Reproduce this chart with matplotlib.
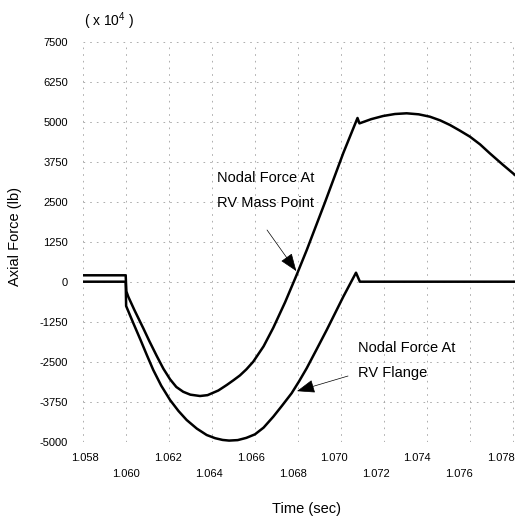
import numpy as np
import matplotlib
matplotlib.use('Agg')
import matplotlib.pyplot as plt
import matplotlib.transforms as mtransforms

plt.rcParams['font.family'] = ['Liberation Sans', 'DejaVu Sans']
plt.rcParams['mathtext.fontset'] = 'custom'
plt.rcParams['mathtext.rm'] = 'Liberation Sans'
plt.rcParams['mathtext.default'] = 'regular'

# axial force (x10^4 lb) vs time
mass_t = [1.0580, 1.0600, 1.06003, 1.06012, 1.06040, 1.06082, 1.06110, 1.06144,
          1.06175, 1.06206, 1.06235, 1.06267, 1.06300, 1.06345, 1.06380, 1.06430,
          1.06469, 1.06500, 1.06530, 1.06560, 1.06592, 1.06640, 1.06685, 1.06740,
          1.06794, 1.06841, 1.06925, 1.0701, 1.07076, 1.07085, 1.07140, 1.07195,
          1.07250, 1.07304, 1.07360, 1.07412, 1.07460, 1.07505, 1.07550, 1.07598,
          1.07645, 1.07690, 1.07750, 1.07807]
mass_v = [200, 200, -300, -469, -880, -1460, -1860, -2320,
          -2720, -3050, -3290, -3440, -3530, -3572, -3545, -3400,
          -3228, -3080, -2930, -2740, -2500, -2020, -1440, -640,
          220, 1000, 2480, 4020, 5116, 4947, 5080, 5178,
          5240, 5262, 5230, 5156, 5040, 4897, 4725, 4531,
          4290, 4012, 3658, 3334]

flange_t = [1.0580, 1.0600, 1.06002, 1.06035, 1.06069, 1.06098, 1.06128, 1.06165,
            1.06206, 1.06245, 1.06283, 1.06330, 1.06376, 1.06415, 1.06450, 1.06480,
            1.06520, 1.06560, 1.06600, 1.06640, 1.06685, 1.06725, 1.06770, 1.06805,
            1.06840, 1.06885, 1.06933, 1.06970, 1.07010, 1.07069, 1.07087, 1.07807]
flange_v = [0, 0, -760, -1290, -1822, -2290, -2759, -3250,
            -3697, -4040, -4322, -4590, -4791, -4890, -4945, -4965,
            -4950, -4880, -4770, -4560, -4219, -3880, -3487, -3110,
            -2706, -2130, -1509, -1010, -469, 281, 0, 0]

xticks = np.round(np.arange(1.058, 1.0781, 0.002), 3)
yticks = np.arange(-5000, 7501, 1250)

fig = plt.figure(figsize=(5.15, 5.21), dpi=100)
ax = fig.add_axes([0.1604, 0.1522, 0.8396, 0.7678])

ax.plot(mass_t, mass_v, color='black', lw=1.8, solid_joinstyle='round')
ax.plot(flange_t, flange_v, color='black', lw=1.8, solid_joinstyle='round')

ax.set_xlim(1.058, 1.07807)
ax.set_ylim(-5000, 7500)
ax.set_xticks(xticks)
ax.set_yticks(yticks)
ax.set_yticklabels([str(v) for v in yticks])
ax.tick_params(axis='both', length=0, labelsize=8)
ax.tick_params(axis='y', pad=10.5)
ax.tick_params(axis='x', labelbottom=False)
ax.grid(True, color='#a0a0a0', lw=0.6, linestyle=(0, (2, 6)))
for s in ax.spines.values():
    s.set_visible(False)

# staggered time labels, two rows
trans = mtransforms.blended_transform_factory(ax.transData, ax.transAxes)
for i, t in enumerate(xticks):
    dx = 2 - 15 * (t - 1.058) / 0.02
    dy = -11 if i % 2 == 0 else -27
    tr = mtransforms.offset_copy(trans, fig=fig, x=dx, y=dy, units='dots')
    ax.text(t, 0, f'{t:.3f}', transform=tr, ha='center', va='top', fontsize=8)

# callouts
ax.text(1.06424, 3241, 'Nodal Force At', fontsize=10.5, va='center', ha='left')
ax.text(1.06424, 2459, 'RV Mass Point', fontsize=10.5, va='center', ha='left')
ax.text(1.07078, -2072, 'Nodal Force At', fontsize=10.5, va='center', ha='left')
ax.text(1.07078, -2853, 'RV Flange', fontsize=10.5, va='center', ha='left')

arrow = dict(arrowstyle='-|>,head_length=0.8,head_width=0.3', color='black',
             lw=0.5, mutation_scale=14, shrinkA=0, shrinkB=0)
ax.annotate('', xy=(1.06792, 330), xytext=(1.06656, 1616), arrowprops=arrow)
ax.annotate('', xy=(1.06795, -3420), xytext=(1.07032, -2947), arrowprops=arrow)

fig.text(109 / 515, 1 - 21 / 521, '( x 10$^4$ )', fontsize=10, ha='center', va='center')
fig.text(15 / 515, 1 - 236 / 521, 'Axial Force (lb)', fontsize=10.5, rotation=90,
         ha='center', va='center')
fig.text(306 / 515, 1 - 509 / 521, 'Time (sec)', fontsize=10.5, ha='center', va='center')

fig.savefig('out.png', dpi=100)
